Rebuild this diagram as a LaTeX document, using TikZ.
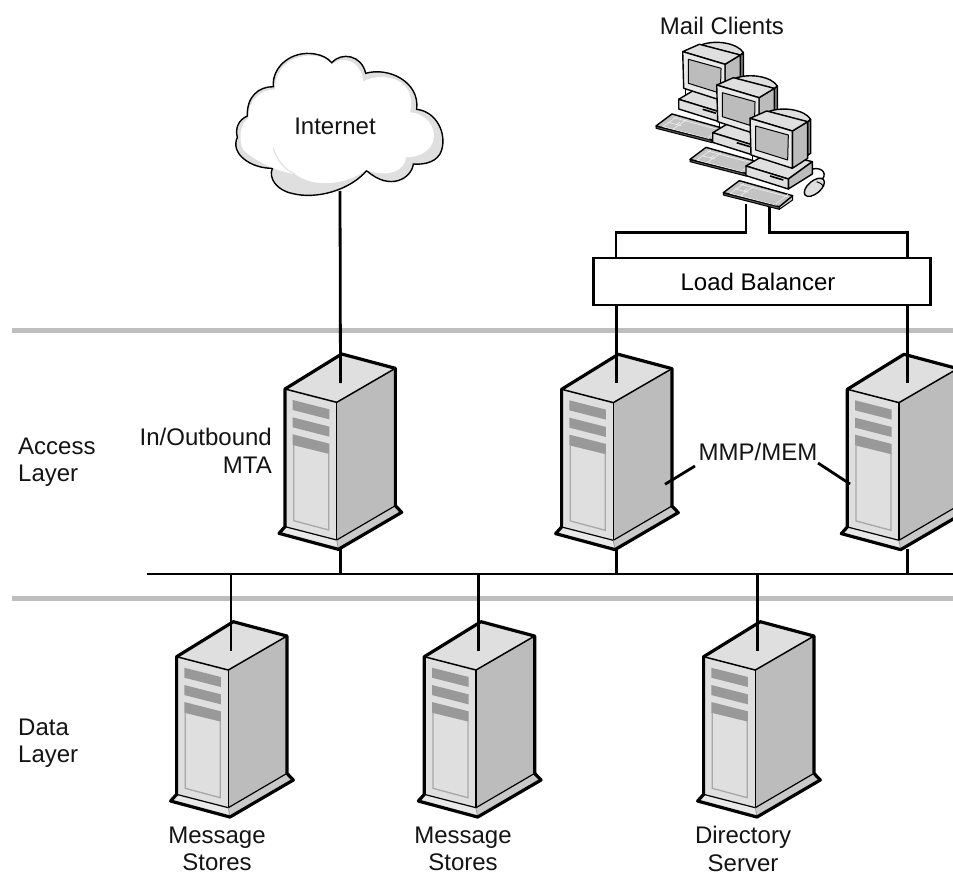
\documentclass[tikz,border=0pt]{standalone}
\usepackage{fontspec}
\setmainfont{Liberation Sans}
\definecolor{lite}{HTML}{DFDFDF}
\definecolor{midg}{HTML}{BCBCBC}
\definecolor{darkg}{HTML}{999999}
\definecolor{rulec}{HTML}{BEBEBE}
\tikzset{
  lbl/.style={font=\fontsize{24}{27.5}\selectfont,inner sep=0pt,align=center,text=black!92},
  lblL/.style={lbl,align=left,anchor=west},
  lblR/.style={lbl,align=right,anchor=east},
  wire/.style={draw=black,line width=2.8pt},
  layerrule/.style={draw=rulec,line width=5pt},
  lbbox/.style={draw=black,line width=2.8pt,fill=white,minimum width=337pt,minimum height=47pt,inner sep=0pt,
    font=\fontsize{24}{27.5}\selectfont},
  thickedge/.style={draw=black,line width=3.2pt,line join=round},
  thinedge/.style={draw=black,line width=1.5pt,line join=round},
  pcedge/.style={draw=black,line width=1.4pt,line join=round},
  pics/server/.style={code={
    \begin{scope}[shift={(-275,-12)}]
      \fill[lite] (105,117)--(260,157)--(260,570)--(105,530)--cycle;
      \fill[lite] (275,12)--(436,55)--(260,157)--(105,117)--cycle;
      \fill[midg] (260,157)--(436,55)--(436,467)--(260,570)--cycle;
      \fill[lite!70!white] (105,530)--(260,570)--(265,598)--(87,550)--cycle;
      \fill[midg!80!white] (260,570)--(436,467)--(455,487)--(265,598)--cycle;
      \fill[darkg] (128,150)--(238,178)--(238,208)--(128,180)--cycle;
      \fill[darkg] (128,202)--(238,230)--(238,260)--(128,232)--cycle;
      \fill[darkg] (128,253)--(238,281)--(238,312)--(128,285)--cycle;
      \draw[draw=darkg!85!white,line width=1.3pt] (131,285)--(131,512)--(236,540)--(236,310);
      \draw[thinedge] (105,117)--(260,157)--(436,55);
      \draw[thinedge,line width=1.2pt] (260,157)--(260,570);
      \draw[thinedge,line width=1.2pt] (105,530)--(260,570)--(436,467);
      \draw[draw=darkg,line width=.8pt] (260,570)--(265,598);
      \draw[thickedge] (275,12)--(436,55)--(436,467)--(455,487)--(265,598)--(87,550)--(105,530)--(105,117)--cycle;
    \end{scope}
  }},
  pics/computer/.style={code={
    % base unit
    \filldraw[fill=lite,pcedge] (378,408)--(450,365)--(577,395)--(505,447)--cycle;
    \filldraw[fill=midg,pcedge] (505,447)--(577,395)--(577,432)--(505,477)--cycle;
    \filldraw[fill=lite,pcedge] (378,408)--(505,447)--(505,477)--(378,437)--cycle;
    \draw[draw=black,line width=1.6pt] (450,438)--(490,450);
    % monitor
    \filldraw[fill=lite,pcedge] (445,245) .. controls (490,228) and (555,240) .. (572,268)--(563,276)--cycle;
    \filldraw[fill=darkg,pcedge] (563,276)--(572,268)--(572,370)--(563,376)--cycle;
    \filldraw[fill=midg,pcedge] (517,303)--(563,275)--(563,385)--(517,415)--cycle;
    \filldraw[fill=lite,pcedge] (390,265)--(440,243)--(563,275)--(517,303)--cycle;
    \filldraw[fill=lite!70!white,pcedge] (390,265)--(517,303)--(517,415)--(393,375)--cycle;
    \filldraw[fill=midg,pcedge,line width=1pt] (407,288)--(505,315)--(503,390)--(407,360)--cycle;
    \draw[pcedge] (398,378)--(398,398);
    % keyboard
    \filldraw[fill=black!65,pcedge,line width=1pt] (310,488)--(310,495)--(478,538)--(478,530)--cycle;
    \filldraw[fill=midg!85!white,pcedge,line width=1pt] (478,530)--(518,497)--(518,510)--(478,538)--cycle;
    \filldraw[fill=midg!90!white,pcedge] (310,488)--(358,452)--(518,497)--(478,530)--cycle;
    \draw[draw=lite!60!white,line width=.7pt] (332,489)--(372,461) (362,497)--(402,469) (345,477)--(385,487)
      (372,483)--(382,476) (468,521)--(504,493) (330,490)--(470,526) (362,463)--(506,501);
  }},
  pics/mousegear/.style={code={
    \draw[pcedge] (577,417) .. controls (610,410) and (625,435) .. (600,455);
    \filldraw[fill=lite,pcedge,rotate around={40:(583,472)}] (583,472) ellipse [x radius=36,y radius=19];
    \draw[pcedge,line width=.9pt] (590,455) .. controls (600,458) and (606,462) .. (612,470);
  }},
}
\begin{document}
\begin{tikzpicture}[x=1pt,y=-1pt]
\clip (0,0) rectangle (953,888);
\fill[white] (0,0) rectangle (953,888);

% layer rules
\coordinate (ruleAL) at (12,330);
\coordinate (ruleAR) at (953,330);
\coordinate (ruleBL) at (12,598.5);
\coordinate (ruleBR) at (953,598.5);
\draw[layerrule] (ruleAL) -- (ruleAR);
\draw[layerrule] (ruleBL) -- (ruleBR);

% cloud
\begin{scope}[shift={(220,50)},scale=0.33333]
  \filldraw[fill=lite,draw=black,line width=1.4pt]
    (160,110) .. controls (155,50) and (215,0) .. (285,12)
    .. controls (305,15) and (325,25) .. (335,38)
    .. controls (365,5) and (425,15) .. (437,70)
    .. controls (505,50) and (600,95) .. (590,178)
    .. controls (650,185) and (680,250) .. (665,300)
    .. controls (655,335) and (615,345) .. (580,342)
    .. controls (575,385) and (510,425) .. (440,362)
    .. controls (390,420) and (290,450) .. (215,430)
    .. controls (170,420) and (145,385) .. (157,355)
    .. controls (90,355) and (30,310) .. (52,262)
    .. controls (45,235) and (55,210) .. (82,198)
    .. controls (80,140) and (115,110) .. (160,110) -- cycle;
  \fill[white]
    (165,118) .. controls (165,55) and (215,12) .. (285,17)
    .. controls (305,20) and (325,30) .. (335,44)
    .. controls (365,18) and (420,25) .. (430,95)
    .. controls (490,60) and (595,90) .. (570,187)
    .. controls (620,190) and (650,235) .. (640,270)
    .. controls (635,300) and (600,322) .. (558,322)
    .. controls (555,360) and (510,385) .. (438,360)
    .. controls (380,405) and (280,415) .. (225,372)
    .. controls (190,368) and (120,345) .. (70,300)
    .. controls (58,280) and (55,225) .. (85,205)
    .. controls (85,150) and (120,120) .. (165,118) -- cycle;
  \draw[draw=lite,line width=1pt] (160,295) .. controls (170,330) and (195,360) .. (225,372);
\end{scope}
\node[lbl] (internet) at (335,126.5) {Internet};
\coordinate (cloudb) at (340,191);

% servers
\pic (s1) at (341.7,354) [scale=0.33333] {server};
\pic (s2) at (618.3,354.3) [scale=0.33333] {server};
\pic (s3) at (904,354.3) [scale=0.33333] {server};
\pic (s4) at (233.3,621.7) [scale=0.33333] {server};
\pic (s5) at (481,621.7) [scale=0.33333] {server};
\pic (s6) at (760.3,621.7) [scale=0.33333] {server};

% computers
\pic (pc1) at (552.7,-36.7) [scale=0.33333] {computer};
\pic (pc2) at (586.7,-3.3) [scale=0.33333] {computer};
\pic (pc3) at (620,30) [scale=0.33333] {computer};
\pic (pcm) at (620,30) [scale=0.33333] {mousegear};

% wiring anchors
\coordinate (busL) at (147,574);
\coordinate (busR) at (953,574);
\coordinate (w1) at (340.5,383);
\coordinate (w2) at (616.3,383);
\coordinate (w3) at (907.7,383);
\coordinate (b1) at (340.5,549);
\coordinate (b2) at (616.3,549);
\coordinate (b3) at (907.7,549);
\coordinate (w4) at (231,651);
\coordinate (w5) at (478.3,651);
\coordinate (w6) at (757.7,651);
\coordinate (kbL) at (746,204);
\coordinate (kbR) at (769.3,207);
\coordinate (jL) at (616,232.7);
\coordinate (jR) at (907.7,232.7);

\node[lbbox] (lb) at (762,281.5) {\hspace*{-8pt}Load Balancer};

\draw[wire] (cloudb) -- (w1);
\draw[wire] (kbL) |- (jL) -- (jL |- lb.north);
\draw[wire] (kbR) |- (jR) -- (jR |- lb.north);
\draw[wire] (w2 |- lb.south) -- (w2);
\draw[wire] (w3 |- lb.south) -- (w3);
\draw[wire] (busL) -- (busR);
\draw[wire] (b1) -- (b1 |- busL);
\draw[wire] (b2) -- (b2 |- busL);
\draw[wire] (b3) -- (b3 |- busL);
\draw[wire] (w4 |- busL) -- (w4);
\draw[wire] (w5 |- busL) -- (w5);
\draw[wire] (w6 |- busL) -- (w6);

% labels
\node[lbl] (mail) at (722,26) {Mail Clients};
\node[lblR] (mta) at (272,451) {In/Outbound\\MTA};
\node[lblL] (access) at (18,462) {Access\\Layer};
\node[lblL] (data) at (18,743) {Data\\Layer};
\node[lbl] (mmp) at (758,452) {MMP/MEM};
\node[lbl] (ms1) at (217,849) {Message\\Stores};
\node[lbl] (ms2) at (463,849) {Message\\Stores};
\node[lbl] (dir) at (743,849) {Directory\\Server};

\coordinate (lead1) at (665,484.3);
\coordinate (lead1e) at (695,466);
\coordinate (lead2) at (850,484);
\coordinate (lead2e) at (818,463);
\draw[wire] (lead1) -- (lead1e);
\draw[wire] (lead2) -- (lead2e);
\end{tikzpicture}
\end{document}
